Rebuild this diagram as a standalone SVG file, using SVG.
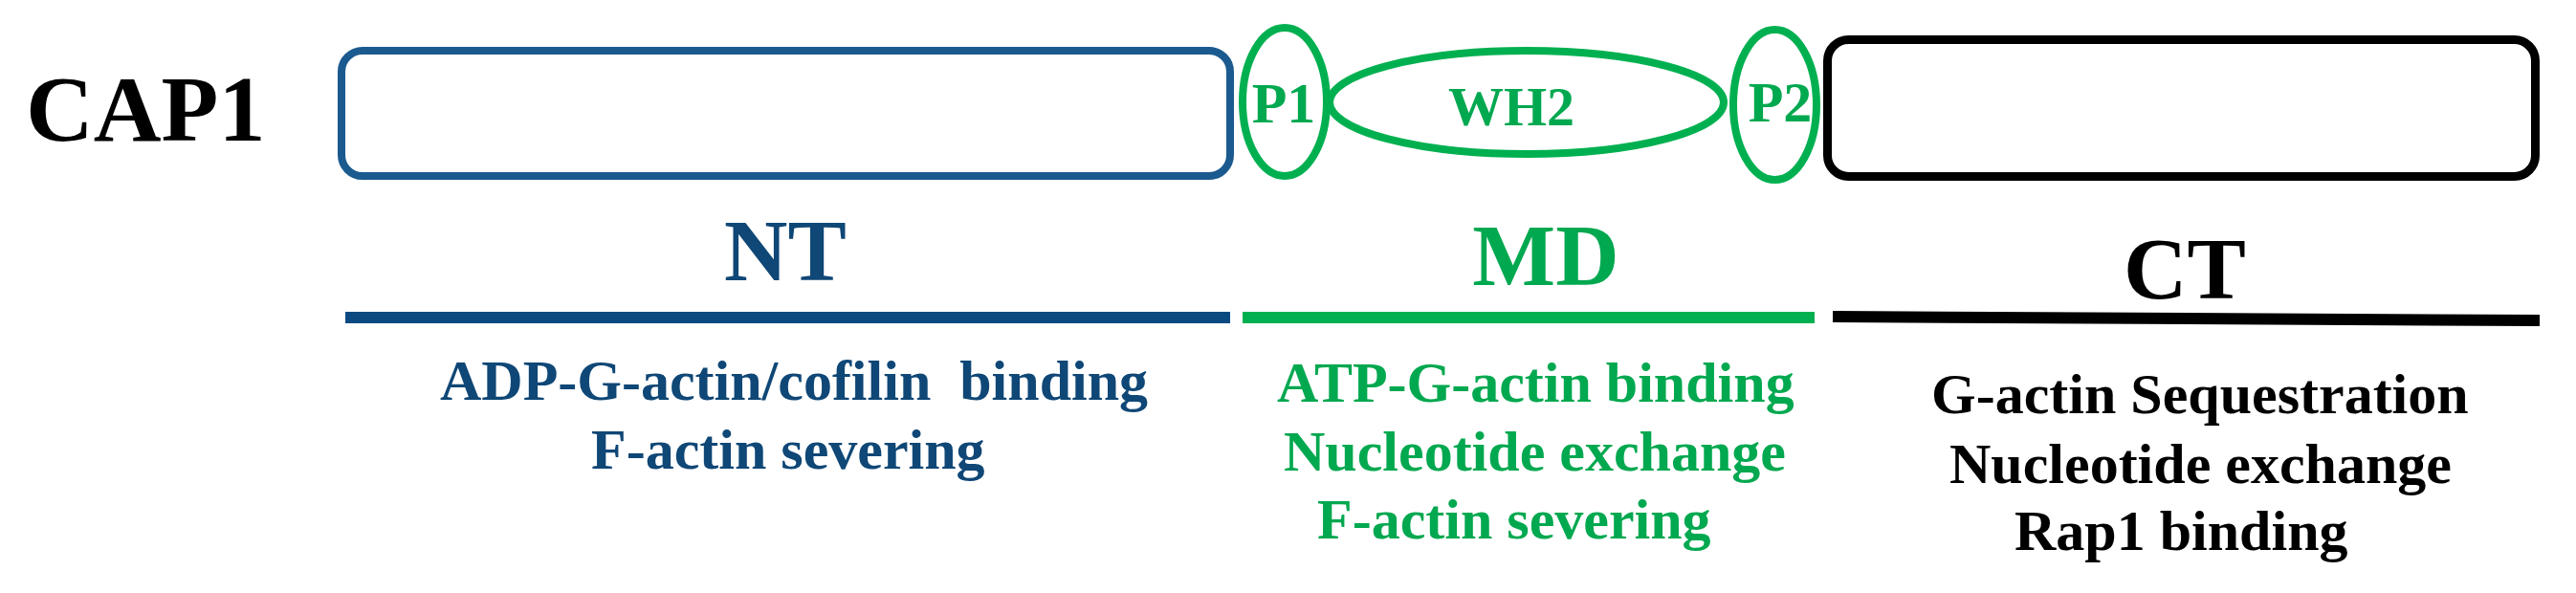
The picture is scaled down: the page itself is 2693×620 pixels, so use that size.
<svg xmlns="http://www.w3.org/2000/svg" width="2693" height="620" viewBox="0 0 2693 620">
<style>
text { font-family: "Liberation Serif", "Times New Roman", serif; font-weight: bold; }
.blue { fill: #0F4776; }
.green { fill: #00A84F; }
.black { fill: #000000; }
.big { font-size: 92px; }
.fn { font-size: 60px; }
.dom { font-size: 60px; text-anchor: middle; }
.box { fill: none; }
.ell { fill: none; stroke: #00B050; stroke-width: 8; }
</style>
<rect width="2693" height="620" fill="#ffffff"/>
<g id="label-cap1">
  <text x="27" y="147" font-size="98" class="black">CAP1</text>
</g>
<g id="node-NT">
  <rect class="box" x="357" y="53" width="929" height="131" rx="22" ry="22" stroke="#1B5A8F" stroke-width="8"/>
</g>
<g id="node-P1">
  <ellipse class="ell" cx="1343" cy="106.5" rx="44" ry="77.5"/>
  <text class="dom green" x="1342" y="128">P1</text>
</g>
<g id="node-WH2">
  <ellipse class="ell" cx="1596" cy="107" rx="206" ry="54"/>
  <text class="green" x="1580" y="131" font-size="58" text-anchor="middle">WH2</text>
</g>
<g id="node-P2">
  <ellipse class="ell" cx="1855.5" cy="109.5" rx="43.5" ry="78.5"/>
  <text class="dom green" x="1861" y="127">P2</text>
</g>
<g id="node-CT">
  <rect class="box" x="1910.5" y="41.5" width="740" height="143" rx="22" ry="22" stroke="#000000" stroke-width="9"/>
</g>
<g id="connectors">
  <line x1="361" y1="332" x2="1286" y2="332" stroke="#0B4A80" stroke-width="12"/>
  <line x1="1299" y1="332" x2="1897" y2="332" stroke="#00B050" stroke-width="12"/>
  <line x1="1916" y1="331" x2="2655" y2="335" stroke="#000000" stroke-width="12"/>
</g>
<g id="section-NT">
  <text class="big blue" x="821" y="293" text-anchor="middle">NT</text>
  <text class="fn blue" x="460" y="418" xml:space="preserve">ADP-G-actin/cofilin  binding</text>
  <text class="fn blue" x="618" y="490">F-actin severing</text>
</g>
<g id="section-MD">
  <text class="big green" x="1616" y="298" text-anchor="middle">MD</text>
  <text class="fn green" x="1335" y="420">ATP-G-actin binding</text>
  <text class="fn green" x="1342" y="492">Nucleotide exchange</text>
  <text class="fn green" x="1377" y="563">F-actin severing</text>
</g>
<g id="section-CT">
  <text class="big black" x="2284" y="312" text-anchor="middle">CT</text>
  <text class="fn black" x="2019" y="432">G-actin Sequestration</text>
  <text class="fn black" x="2038" y="505">Nucleotide exchange</text>
  <text class="fn black" x="2106" y="575">Rap1 binding</text>
</g>
</svg>
